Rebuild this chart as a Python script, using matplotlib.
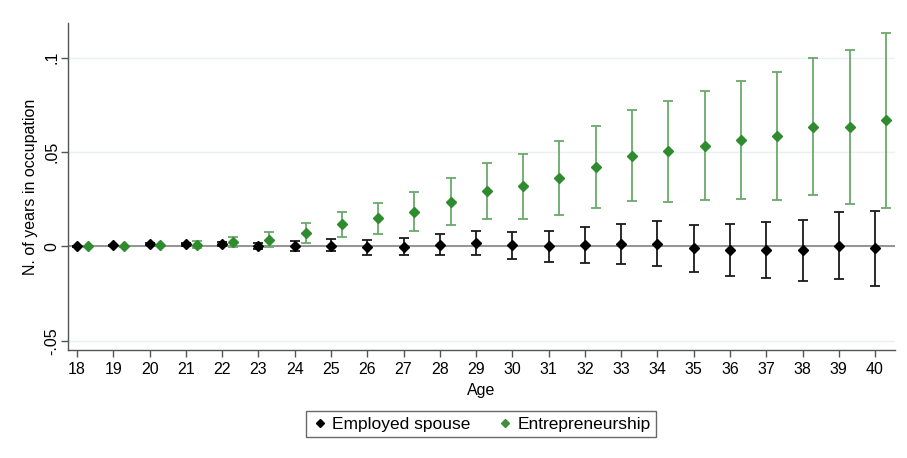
import matplotlib
matplotlib.use("Agg")
import matplotlib.pyplot as plt
from matplotlib.lines import Line2D
import numpy as np

plt.rcParams['font.family'] = ['Liberation Sans', 'DejaVu Sans']

ages = list(range(18, 41))

# Employed spouse: point estimate, upper and lower 95% CI
emp = [0.0000, 0.0007, 0.0012, 0.0012, 0.0011, 0.0002, 0.0000, 0.0004, -0.0005,
       -0.0002, 0.0009, 0.0018, 0.0005, 0.0002, 0.0005, 0.0013, 0.0014,
       -0.0011, -0.0018, -0.0019, -0.0021, 0.0002, -0.0011]
emp_hi = [0.0002, 0.0010, 0.0016, 0.0020, 0.0021, 0.0018, 0.0029, 0.0037, 0.0034,
          0.0045, 0.0064, 0.0083, 0.0078, 0.0083, 0.0103, 0.0120, 0.0135,
          0.0113, 0.0120, 0.0131, 0.0141, 0.0182, 0.0189]
emp_lo = [-0.0002, 0.0004, 0.0008, 0.0004, 0.0001, -0.0014, -0.0023, -0.0026, -0.0044,
          -0.0048, -0.0048, -0.0048, -0.0069, -0.0083, -0.0090, -0.0095, -0.0104,
          -0.0136, -0.0157, -0.0170, -0.0184, -0.0173, -0.0210]

# Entrepreneurship: point estimate, upper and lower 95% CI
ent = [0.0000, 0.0000, 0.0005, 0.0007, 0.0021, 0.0034, 0.0071, 0.0119, 0.0148,
       0.0182, 0.0235, 0.0292, 0.0318, 0.0364, 0.0419, 0.0481, 0.0504,
       0.0534, 0.0564, 0.0587, 0.0633, 0.0631, 0.0668]
ent_hi = [0.0002, 0.0003, 0.0010, 0.0029, 0.0051, 0.0074, 0.0124, 0.0184, 0.0232,
          0.0288, 0.0360, 0.0440, 0.0490, 0.0559, 0.0636, 0.0723, 0.0771,
          0.0825, 0.0875, 0.0924, 0.0996, 0.1041, 0.1133]
ent_lo = [-0.0002, -0.0003, 0.0000, -0.0009, -0.0005, -0.0005, 0.0016, 0.0051, 0.0066,
          0.0080, 0.0111, 0.0147, 0.0147, 0.0168, 0.0203, 0.0239, 0.0237,
          0.0244, 0.0253, 0.0248, 0.0270, 0.0223, 0.0203]

yticks = [-0.05, 0, 0.05, 0.1]
ytick_labels = ["-.05", "0", ".05", ".1"]

fig = plt.figure(figsize=(9.07, 4.58), dpi=100)
ax = fig.add_axes([68 / 907, 1 - 350 / 458, (895 - 68) / 907, (350 - 23) / 458])

x = np.array(ages, dtype=float)
xg = x + 0.3

for yv in yticks:
    ax.axhline(yv, color="#eaf1f2", lw=1.0, zorder=0)
ax.axhline(0, color="#8c8c8c", lw=1.3, zorder=1)

e = np.array(emp); eh = np.array(emp_hi); el = np.array(emp_lo)
g = np.array(ent); gh = np.array(ent_hi); gl = np.array(ent_lo)

ax.errorbar(x, e, yerr=[e - el, eh - e], fmt="none", ecolor="#1a1a1a",
            elinewidth=1.3, capsize=3.5, capthick=1.3, zorder=2)
ax.plot(x, e, "D", color="black", ms=5.5, zorder=3)

ax.errorbar(xg, g, yerr=[g - gl, gh - g], fmt="none", ecolor="#6aaa6a",
            elinewidth=1.3, capsize=3.5, capthick=1.3, zorder=2)
ax.plot(xg, g, "D", color="#2e8b2e", ms=5.5, zorder=3)

ax.set_xlim(17.75, 40.55)
ax.set_ylim(-0.0549, 0.1184)
ax.set_xticks(ages)
ax.set_xticklabels([str(a) for a in ages], fontsize=11.5)
ax.set_yticks(yticks)
ax.set_yticklabels(ytick_labels, fontsize=11.5, rotation=90, va="center")

for side in ("top", "right"):
    ax.spines[side].set_visible(False)
for side in ("left", "bottom"):
    ax.spines[side].set_color("#555555")
    ax.spines[side].set_linewidth(1.0)
ax.tick_params(axis="both", colors="#555555", labelcolor="black", length=5, width=1.0)
ax.tick_params(axis="y", pad=1)
ax.tick_params(axis="x", pad=4)

ax.set_xlabel("Age", fontsize=11.5, labelpad=4)
ax.set_ylabel("N. of years in occupation", fontsize=11.5, labelpad=5)

handles = [
    Line2D([], [], marker="D", color="black", ls="none", ms=4),
    Line2D([], [], marker="D", color="#3d8f3d", ls="none", ms=4),
]
leg = fig.legend(handles, ["Employed spouse", "Entrepreneurship"],
                 loc="center", bbox_to_anchor=(481 / 907, 1 - 424 / 458),
                 ncol=2, fontsize=12.5, frameon=True, fancybox=False,
                 edgecolor="#444444", handletextpad=0.2, columnspacing=1.5,
                 handlelength=1.0, borderpad=0.3)
leg.get_frame().set_linewidth(1.0)

fig.savefig("out.png", dpi=100)
